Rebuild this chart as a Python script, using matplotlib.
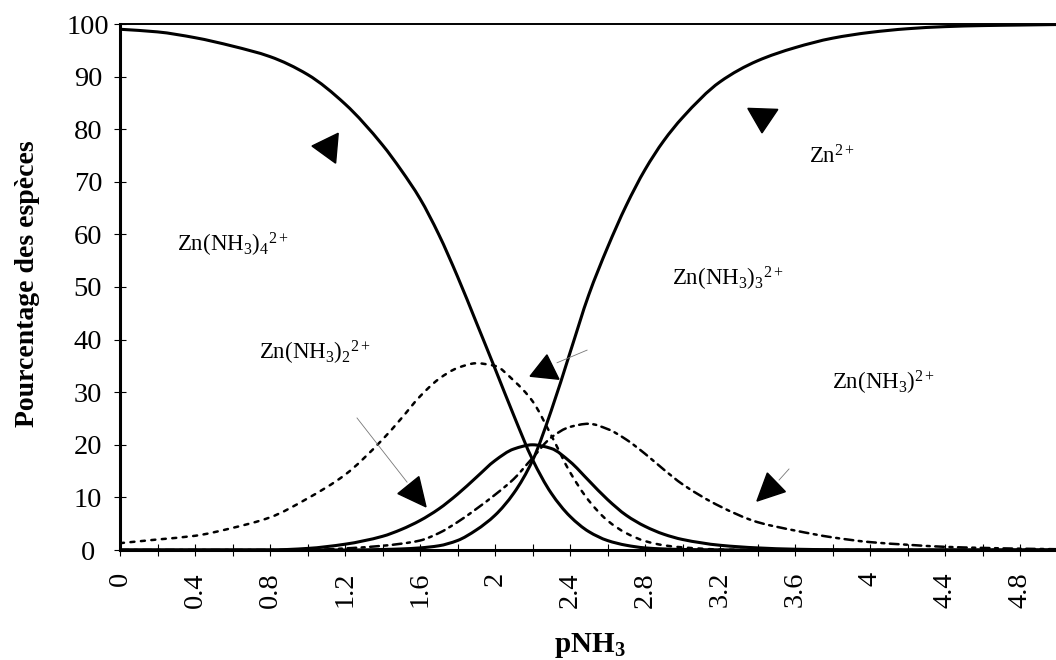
import numpy as np
import matplotlib
matplotlib.use("Agg")
import matplotlib.pyplot as plt
from matplotlib.patches import Polygon, PathPatch
from matplotlib.path import Path
from matplotlib.ticker import MultipleLocator, FuncFormatter

plt.rcParams["font.family"] = ["Liberation Serif", "DejaVu Serif"]
plt.rcParams["mathtext.fontset"] = "custom"
plt.rcParams["mathtext.rm"] = "Liberation Serif"
plt.rcParams["mathtext.it"] = "Liberation Serif:italic"
plt.rcParams["mathtext.bf"] = "Liberation Serif:bold"
plt.rcParams["mathtext.default"] = "rm"

# pNH3 grid and species percentages
p_nh3 = [0.0, 0.2, 0.4, 0.6, 0.8, 1.0, 1.2, 1.4, 1.5, 1.6, 1.7, 1.8, 1.9, 2.0,
         2.1, 2.2, 2.3, 2.4, 2.5, 2.6, 2.7, 2.8, 2.9, 3.0, 3.2, 3.4, 3.6, 3.8,
         4.0, 4.2, 4.4, 4.6, 4.8, 5.0]
zn_nh3_4 = [99.0, 98.5, 97.4, 95.8, 93.8, 90.4, 84.8, 77.0, 72.2, 66.8, 60.0, 52.0,
            43.3, 34.5, 25.6, 17.2, 10.8, 6.4, 3.5, 1.8, 0.9, 0.4, 0.2, 0.1, 0.03,
            0, 0, 0, 0, 0, 0, 0, 0, 0]
zn_free = [0, 0, 0, 0, 0, 0, 0, 0.1, 0.2, 0.4, 0.8, 1.8, 3.8, 6.6, 10.8, 17.0, 26.5,
           37.5, 48.5, 57.5, 65.5, 72.3, 77.8, 82.2, 89.0, 93.0, 95.5, 97.3, 98.4,
           99.1, 99.5, 99.7, 99.8, 99.9]
zn_nh3_3 = [0, 0, 0, 0, 0, 0.3, 1.1, 2.6, 3.9, 5.6, 7.8, 10.6, 13.8, 17.0, 19.2,
            20.0, 19.3, 16.8, 13.2, 9.6, 6.6, 4.5, 3.0, 2.0, 0.9, 0.4, 0.15, 0.05,
            0, 0, 0, 0, 0, 0]
zn_nh3_2 = [1.3, 2.0, 2.7, 4.2, 6.2, 9.8, 14.3, 21.0, 25.0, 29.2, 32.5, 34.6, 35.5,
            35.0, 32.2, 28.3, 21.8, 14.8, 9.4, 5.6, 3.2, 1.7, 0.9, 0.5, 0.1, 0, 0,
            0, 0, 0, 0, 0, 0, 0]
zn_nh3_1 = [0, 0, 0, 0, 0, 0, 0.3, 0.8, 1.2, 1.8, 3.2, 5.3, 7.8, 10.5, 13.5, 17.5,
            21.4, 23.4, 24.0, 23.0, 21.0, 18.3, 15.3, 12.5, 8.3, 5.3, 3.7, 2.4, 1.5,
            1.0, 0.6, 0.4, 0.25, 0.15]

species_labels = [r"Zn(NH$_3$)$_4{}^{2+}$", r"Zn$^{2+}$", r"Zn(NH$_3$)$_3{}^{2+}$",
                  r"Zn(NH$_3$)$_2{}^{2+}$", r"Zn(NH$_3$)$^{2+}$"]
label_pos = [(0.60, 58.0), (3.80, 74.8), (3.24, 51.5), (1.04, 37.5), (4.07, 31.8)]


def smooth_path(x, y):
    """Smoothed line through the points (monotone cubic segments as Bezier curves)."""
    x = np.asarray(x, float)
    y = np.asarray(y, float)
    h = np.diff(x)
    delta = np.diff(y) / h
    m = np.zeros_like(y)
    for i in range(1, len(y) - 1):
        if delta[i - 1] * delta[i] > 0:
            w1 = 2 * h[i] + h[i - 1]
            w2 = h[i] + 2 * h[i - 1]
            m[i] = (w1 + w2) / (w1 / delta[i - 1] + w2 / delta[i])
    m[0] = delta[0]
    m[-1] = delta[-1]
    verts = [(x[0], y[0])]
    codes = [Path.MOVETO]
    for i in range(len(x) - 1):
        verts += [(x[i] + h[i] / 3, y[i] + m[i] * h[i] / 3),
                  (x[i + 1] - h[i] / 3, y[i + 1] - m[i + 1] * h[i] / 3),
                  (x[i + 1], y[i + 1])]
        codes += [Path.CURVE4] * 3
    return Path(verts, codes)


W, H = 1056, 660
fig = plt.figure(figsize=(W / 100, H / 100), dpi=100)
ax = fig.add_axes([120 / W, 110 / H, 937.5 / W, 526 / H])
ax.set_xlim(0, 5)
ax.set_ylim(0, 100)

series = [(zn_nh3_4, 2.2, "-"), (zn_free, 2.2, "-"), (zn_nh3_3, 2.2, "-"),
          (zn_nh3_2, 1.8, (0, (1.6, 2.6))), (zn_nh3_1, 1.8, (0, (3.5, 2.2, 1.2, 2.2)))]
for values, lw, ls in series:
    ax.add_patch(PathPatch(smooth_path(p_nh3, values), fill=False, edgecolor="black",
                           lw=lw, linestyle=ls, capstyle="round", joinstyle="round",
                           clip_on=True, zorder=3))

for s in ("left", "bottom"):
    ax.spines[s].set_linewidth(2.2)
ax.spines["top"].set_linewidth(1.4)
ax.spines["right"].set_visible(False)

ax.xaxis.set_major_locator(MultipleLocator(0.4))
ax.xaxis.set_minor_locator(MultipleLocator(0.2))
ax.yaxis.set_major_locator(MultipleLocator(10))
ax.xaxis.set_major_formatter(FuncFormatter(lambda v, _: f"{v:.1f}".rstrip("0").rstrip(".")))
ax.tick_params(axis="both", which="both", direction="inout", length=9, width=0.8,
               labelsize=20.5, top=False, right=False)
ax.tick_params(axis="y", pad=18.5)
ax.tick_params(axis="x", pad=11.3)
for lab in ax.get_yticklabels():
    lab.set_horizontalalignment("center")
for lab in ax.get_xticklabels():
    lab.set_rotation(90)
    lab.set_verticalalignment("top")

for text, (x, y) in zip(species_labels, label_pos):
    ax.text(x, y, text, fontsize=16.5, ha="center", va="center")

fig.text(28 / W, 1 - 284 / H, "Pourcentage des espèces", rotation=90,
         ha="center", va="center", fontsize=20, fontweight="bold")
fig.text(590 / W, 1 - 645 / H, r"pNH$_\mathbf{3}$", ha="center", va="center",
         fontsize=21, fontweight="bold")

# filled arrowheads: tip (data), direction (deg), length and width (px)
heads = [((1.024, 76.8), 175, 25, 30), ((3.424, 79.3), -92, 24, 30),
         ((2.277, 37.1), 84, 23, 29), ((1.632, 8.2), -51, 28, 27),
         ((3.397, 9.3), -136, 27, 26)]
leaders = [((2.331, 35.6), (2.491, 38.0)), ((1.264, 25.1), (1.531, 12.9)),
           ((3.515, 13.3), (3.568, 15.4))]

fig.canvas.draw()
to_px = ax.transData
to_data = ax.transData.inverted()
for tip, ang, length, width in heads:
    tx, ty = to_px.transform(tip)
    a = np.deg2rad(ang)
    d = np.array([np.cos(a), np.sin(a)])
    n = np.array([-d[1], d[0]])
    base = np.array([tx, ty]) - d * length
    pts = [np.array([tx, ty]), base + n * width / 2, base - n * width / 2]
    ax.add_patch(Polygon(to_data.transform(pts), closed=True, color="black", zorder=5))
for (x0, y0), (x1, y1) in leaders:
    ax.plot([x0, x1], [y0, y1], color="#777777", lw=0.6, zorder=4)

fig.savefig("out.png", dpi=100)
